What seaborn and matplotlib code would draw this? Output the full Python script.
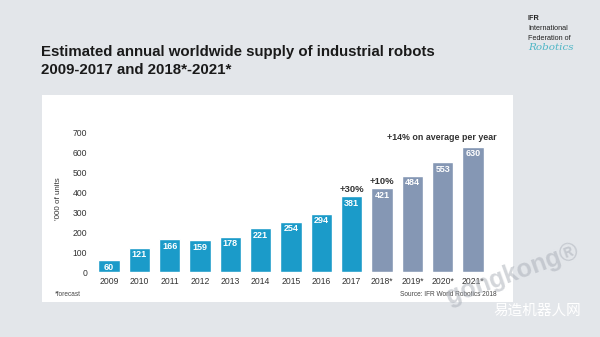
import matplotlib
matplotlib.use("Agg")
import matplotlib.pyplot as plt
import seaborn as sns
import pandas as pd
from matplotlib.patches import Rectangle

years = ["2009", "2010", "2011", "2012", "2013", "2014", "2015", "2016", "2017",
         "2018*", "2019*", "2020*", "2021*"]
units = [60, 121, 166, 159, 178, 221, 254, 294, 381, 421, 484, 553, 630]
kind = ["actual"] * 9 + ["forecast"] * 4
yticks = [0, 100, 200, 300, 400, 500, 600, 700]

title = "Estimated annual worldwide supply of industrial robots\n2009-2017 and 2018*-2021*"
growth_notes = [("2017", "+30%"), ("2018*", "+10%")]
avg_note = "+14% on average per year"

BLUE = "#1b9bc9"
GREY = "#8597b4"

sns.set_theme(style="white")
plt.rcParams["font.family"] = ["Liberation Sans", "DejaVu Sans"]

df = pd.DataFrame({"year": years, "units": units, "kind": kind})

fig = plt.figure(figsize=(6.0, 3.37), dpi=100)
fig.patch.set_facecolor("#e3e6ea")

# white panel
panel = Rectangle((42 / 600, 1 - 302 / 337), (513 - 42) / 600, (302 - 95) / 337,
                  transform=fig.transFigure, facecolor="white", edgecolor="none",
                  zorder=-5)
fig.patches.append(panel)

ax = fig.add_axes([95 / 600, 1 - 272 / 337, (490 - 95) / 600, (272 - 125) / 337])
ax.set_facecolor("none")
ax.set_zorder(2)

sns.barplot(data=df, x="year", y="units", hue="kind",
            palette={"actual": BLUE, "forecast": GREY},
            dodge=False, width=0.7, legend=False, ax=ax, saturation=1)

ax.set_xlim(-0.46, 12.56)
ax.set_ylim(0, 740)
ax.set_yticks(yticks)
ax.set_yticklabels([str(v) for v in yticks])
for s in ax.spines.values():
    s.set_visible(False)
ax.tick_params(axis="both", length=0, labelsize=6.2, colors="#333333")
ax.tick_params(axis="y", pad=5.5)
ax.tick_params(axis="x", pad=3.5)
ax.set_xlabel("")
ax.set_ylabel("'000 of units", fontsize=5.8, color="#333333", labelpad=8)

for i, v in enumerate(units):
    ax.annotate(str(v), (i, v), xytext=(0, -1.8), textcoords="offset points",
                ha="center", va="top", fontsize=6.5, fontweight="bold", color="white")

for yr, txt in growth_notes:
    i = years.index(yr)
    ax.annotate(txt, (i, units[i]), xytext=(0, 1.5), textcoords="offset points",
                ha="center", va="bottom", fontsize=6.8, fontweight="bold",
                color="#333333", annotation_clip=False)

fig.text(442 / 600, 1 - 138 / 337, avg_note, ha="center", va="center",
         fontsize=6.4, fontweight="bold", color="#333333")

fig.text(41 / 600, 1 - 61 / 337, title, ha="left", va="center", fontsize=10.8,
         fontweight="bold", color="#1a1a1a", linespacing=1.38)

fig.text(55 / 600, 1 - 295 / 337, "*forecast", ha="left", va="center",
         fontsize=4.7, color="#444444")
fig.text(497 / 600, 1 - 295 / 337, "Source: IFR World Robotics 2018", ha="right",
         va="center", fontsize=4.7, color="#444444")

# logo
fig.text(528 / 600, 1 - 18 / 337, "IFR", fontsize=5.2, fontweight="bold",
         color="#222222", va="center")
fig.text(528 / 600, 1 - 28 / 337, "International", fontsize=5.2,
         color="#222222", va="center")
fig.text(528 / 600, 1 - 38 / 337, "Federation of", fontsize=5.2,
         color="#222222", va="center")
fig.text(528 / 600, 1 - 48 / 337, "Robotics", fontsize=7.5, style="italic",
         color="#4fb6c6", va="center", family="DejaVu Serif")

# watermarks
fig.text(512 / 600, 1 - 274 / 337, "gongkong®", fontsize=18, fontweight="bold",
         color="#a8adb6", alpha=0.5, rotation=20, ha="center", va="center", zorder=5)
fig.text(537 / 600, 1 - 311 / 337, "易造机器人网", fontsize=10.5, color="white",
         ha="center", va="center", family=["Noto Sans CJK SC", "DejaVu Sans"], zorder=5)

fig.savefig("out.png", dpi=100, facecolor=fig.get_facecolor())
